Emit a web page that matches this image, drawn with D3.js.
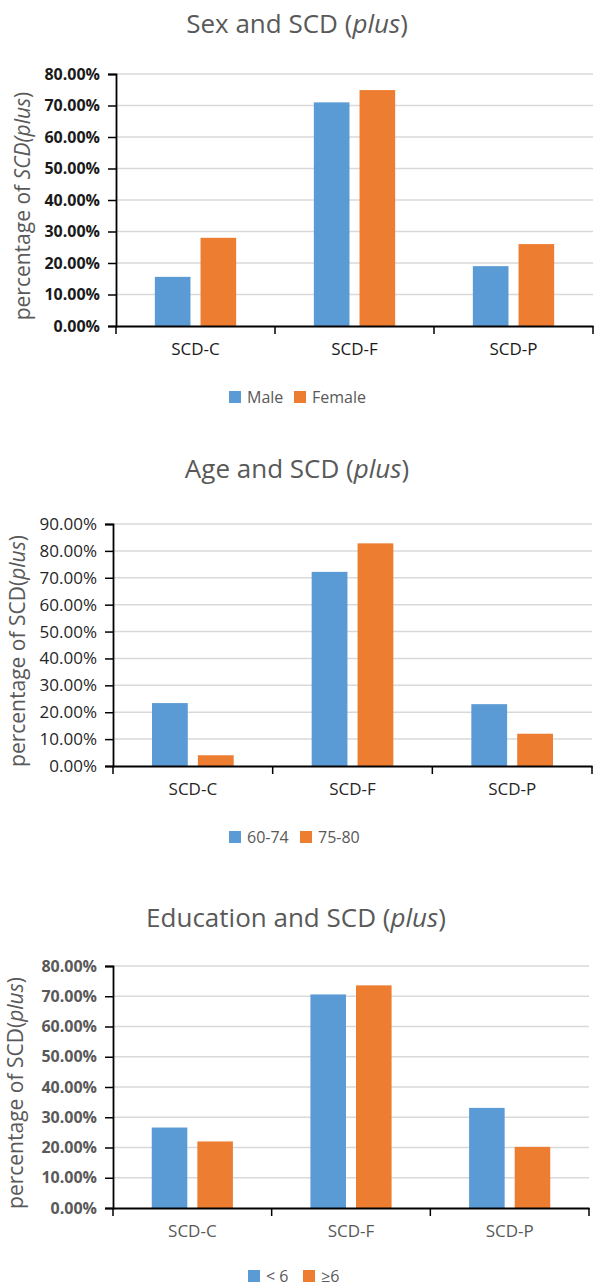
<!DOCTYPE html>
<html>
<head>
<meta charset="utf-8">
<script src="https://cdn.jsdelivr.net/npm/d3@7"></script>
<style>
  body { margin: 0; background: #fff; }
  svg { display: block; font-family: "Open Sans", sans-serif; }
</style>
</head>
<body>
<div class="charts"></div>
<script>
// values
var categories = ["SCD-C", "SCD-F", "SCD-P"];

var sexSeries = ["Male", "Female"];
var sexMale = [15.6, 71.0, 19.0];
var sexFemale = [28.0, 74.9, 26.0];

var ageSeries = ["60-74", "75-80"];
var age6074 = [23.4, 72.2, 23.0];
var age7580 = [4.0, 82.8, 12.0];

var eduSeries = ["< 6", "≥6"];
var eduLow = [26.6, 70.6, 33.1];
var eduHigh = [22.0, 73.6, 20.2];

var sexTicks = [0, 10, 20, 30, 40, 50, 60, 70, 80];
var ageTicks = [0, 10, 20, 30, 40, 50, 60, 70, 80, 90];
var eduTicks = [0, 10, 20, 30, 40, 50, 60, 70, 80];

var colors = ["#5b9bd5", "#ed7d31"];
var fontFam = "'Open Sans', sans-serif";

var width = 594;
var height = 1287;

var svg = d3.select(".charts").append("svg")
    .attr("width", width)
    .attr("height", height);

var drawPanel = function(p) {
  var g = svg.append("g");

  var y = d3.scaleLinear()
      .domain([0, d3.max(p.ticks)])
      .range([p.bottom, p.top]);

  var x0 = d3.scaleBand()
      .domain(categories)
      .range([p.left, p.right]);

  var x1 = d3.scaleBand()
      .domain(p.series)
      .range([0, x0.bandwidth()])
      .paddingInner(0.22)
      .paddingOuter(0.85);

  // gridlines
  g.append("g").selectAll("line")
      .data(p.ticks.slice(1))
      .enter().append("line")
      .attr("x1", p.left)
      .attr("x2", p.right)
      .attr("y1", function(d) { return y(d); })
      .attr("y2", function(d) { return y(d); })
      .attr("stroke", "#d9d9d9")
      .attr("stroke-width", 1.5);

  // bars
  var rows = categories.map(function(c, i) {
    return p.series.map(function(s, j) {
      return { cat: c, key: s, value: p.values[j][i], color: colors[j] };
    });
  });

  g.append("g").selectAll("g")
      .data(rows)
      .enter().append("g")
      .attr("transform", function(d) { return "translate(" + x0(d[0].cat) + ",0)"; })
      .selectAll("rect")
      .data(function(d) { return d; })
      .enter().append("rect")
      .attr("x", function(d) { return x1(d.key); })
      .attr("y", function(d) { return y(d.value); })
      .attr("width", x1.bandwidth())
      .attr("height", function(d) { return p.bottom - y(d.value); })
      .style("fill", function(d) { return d.color; });

  // y axis
  var yAxis = g.append("g")
      .attr("transform", "translate(" + p.left + ",0)")
      .call(d3.axisLeft(y).tickValues(p.ticks).tickSize(8).tickPadding(8)
        .tickFormat(function(d) { return d.toFixed(2) + "%"; }))
      .attr("font-family", fontFam);
  yAxis.select(".domain").attr("stroke", "#000").attr("stroke-width", 1.8);
  yAxis.selectAll(".tick line").attr("stroke", "#000").attr("stroke-width", 1.5);
  yAxis.selectAll(".tick text")
      .style("font-size", p.tickSize)
      .style("font-weight", p.tickWeight)
      .style("fill", p.tickColor);

  // x axis
  var xAxis = g.append("g")
      .attr("transform", "translate(0," + p.bottom + ")")
      .call(d3.axisBottom(x0).tickSize(0).tickPadding(17))
      .attr("font-family", fontFam);
  xAxis.select(".domain").attr("stroke", "#000").attr("stroke-width", 1.8);
  xAxis.selectAll(".tick text")
      .style("font-size", "17px")
      .style("fill", p.labelColor);
  // boundary ticks between categories
  xAxis.append("g").selectAll("line")
      .data([p.left].concat(categories.map(function(c) { return x0(c) + x0.bandwidth(); })))
      .enter().append("line")
      .attr("x1", function(d) { return d; })
      .attr("x2", function(d) { return d; })
      .attr("y1", 0)
      .attr("y2", 8)
      .attr("stroke", "#000")
      .attr("stroke-width", 1.5);

  // title
  var title = g.append("text")
      .attr("x", p.titleX)
      .attr("y", p.titleY)
      .attr("text-anchor", "middle")
      .style("font-size", "26px")
      .style("fill", "#595959");
  title.append("tspan").text(p.titleText + " (");
  title.append("tspan").style("font-style", "italic").text("plus");
  title.append("tspan").text(")");

  // y label
  var yl = g.append("text")
      .attr("transform", "translate(" + p.ylabelX + "," + ((p.top + p.bottom) / 2 + 6) + ") rotate(-90)")
      .attr("text-anchor", "middle")
      .style("font-size", "21px")
      .style("fill", "#595959");
  yl.append("tspan").text("percentage of ");
  yl.append("tspan").style("font-style", p.scdItalic ? "italic" : "normal").text("SCD(");
  yl.append("tspan").style("font-style", "italic").text("plus");
  yl.append("tspan").text(")");

  // legend
  var leg = g.append("g").selectAll("g")
      .data(p.series)
      .enter().append("g")
      .attr("transform", function(d, i) { return "translate(" + p.legendX[i] + "," + p.legendY + ")"; });
  leg.append("rect")
      .attr("x", 0)
      .attr("y", -6)
      .attr("width", 12)
      .attr("height", 12)
      .style("fill", function(d, i) { return colors[i]; });
  leg.append("text")
      .attr("x", 18)
      .attr("y", 6)
      .style("font-size", "16px")
      .style("fill", "#595959")
      .text(function(d) { return d; });
};

drawPanel({
  titleText: "Sex and SCD", titleX: 297, titleY: 33,
  series: sexSeries, values: [sexMale, sexFemale], ticks: sexTicks,
  left: 116, right: 593, top: 74, bottom: 326,
  tickSize: "16px", tickWeight: "bold", tickColor: "#1a1a1a", labelColor: "#1a1a1a",
  ylabelX: 30, scdItalic: true,
  legendX: [229, 294], legendY: 397
});

drawPanel({
  titleText: "Age and SCD", titleX: 297, titleY: 478,
  series: ageSeries, values: [age6074, age7580], ticks: ageTicks,
  left: 113, right: 592, top: 524, bottom: 766,
  tickSize: "17px", tickWeight: "normal", tickColor: "#262626", labelColor: "#262626",
  ylabelX: 25, scdItalic: false,
  legendX: [229, 300], legendY: 837
});

drawPanel({
  titleText: "Education and SCD", titleX: 296, titleY: 927,
  series: eduSeries, values: [eduLow, eduHigh], ticks: eduTicks,
  left: 113, right: 589, top: 966, bottom: 1208,
  tickSize: "16px", tickWeight: "bold", tickColor: "#595959", labelColor: "#595959",
  ylabelX: 23, scdItalic: false,
  legendX: [248, 303], legendY: 1276
});
</script>
</body>
</html>
